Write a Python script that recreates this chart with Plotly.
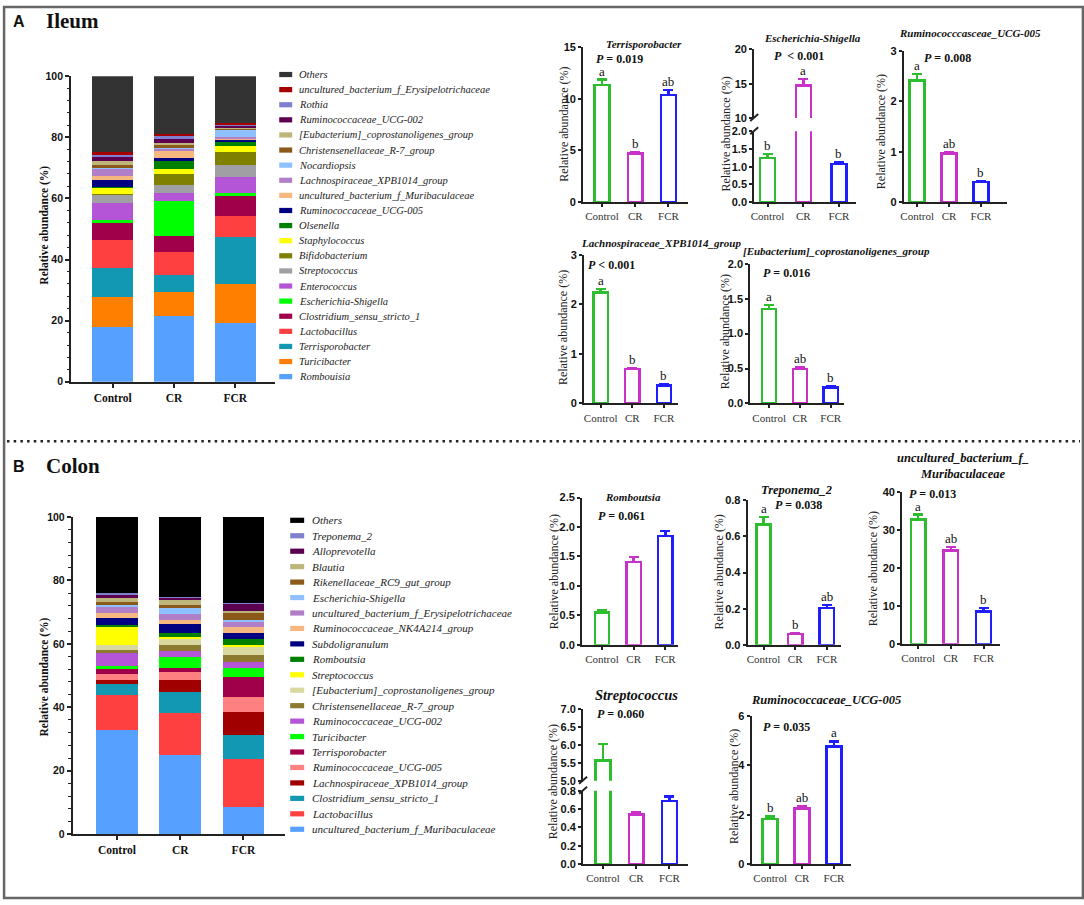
import plotly.graph_objects as go

W, H = 1084, 905
GROUPS = ["Control", "CR", "FCR"]
GROUP_COLORS = ["#2EBD2E", "#C832C8", "#1E1EFF"]

# ---------------- Ileum composition (%), bottom -> top ----------------
ileum_taxa = ["Rombouisia", "Turicibacter", "Terrisporobacter", "Lactobacillus",
              "Clostridium_sensu_stricto_1", "Escherichia-Shigella", "Enterococcus",
              "Streptococcus", "Bifidobacterium", "Staphylococcus", "Olsenella",
              "Ruminococcaceae_UCG-005", "uncultured_bacterium_f_Muribaculaceae",
              "Lachnospiraceae_XPB1014_group", "Nocardiopsis", "Christensenellaceae_R-7_group",
              "[Eubacterium]_coprostanoligenes_group", "Ruminococcaceae_UCG-002", "Rothia",
              "uncultured_bacterium_f_Erysipelotrichaceae", "Others"]
ileum_control = [17.8, 9.9, 9.4, 9.2, 5.8, 1.0, 5.4, 2.6, 0.4, 1.9, 0.3, 2.2, 1.5, 2.2, 0.2, 1.0, 1.3, 1.5, 0.6, 0.9, 24.9]
ileum_cr = [21.4, 8.0, 5.7, 7.4, 5.2, 11.5, 2.5, 2.8, 3.5, 1.6, 2.5, 1.0, 2.3, 0.8, 0.4, 0.9, 0.6, 1.4, 0.8, 0.8, 18.9]
ileum_fcr = [19.1, 12.9, 15.3, 6.8, 6.8, 0.8, 5.2, 3.9, 4.3, 1.9, 1.6, 0.7, 0.3, 0.4, 2.4, 0.4, 0.4, 0.5, 0.4, 0.6, 15.3]
ileum_colors = ["#56A0FF", "#FF8000", "#1298B2", "#FF4040", "#A0004A", "#00FF00", "#B455D8",
                "#A0A0A4", "#808000", "#FFFF00", "#008000", "#000080", "#F5B880", "#B07FC8",
                "#8FC0FF", "#8B5A1A", "#BDB57A", "#5C0050", "#8080D0", "#A50000", "#333333"]

# ---------------- Colon composition (%), bottom -> top ----------------
colon_taxa = ["uncultured_bacterium_f_Muribaculaceae", "Lactobacillus", "Clostridium_sensu_stricto_1",
              "Lachnospiraceae_XPB1014_group", "Ruminococcaceae_UCG-005", "Terrisporobacter",
              "Turicibacter", "Ruminococcaceae_UCG-002", "Christensenellaceae_R-7_group",
              "[Eubacterium]_coprostanoligenes_group", "Streptococcus", "Romboutsia",
              "Subdoligranulum", "Ruminococcaceae_NK4A214_group",
              "uncultured_bacterium_f_Erysipelotrichaceae", "Escherichia-Shigella",
              "Rikenellaceae_RC9_gut_group", "Blautia", "Alloprevotella", "Treponema_2", "Others"]
colon_control = [33.0, 11.0, 3.3, 1.4, 1.7, 1.7, 1.0, 3.9, 1.0, 1.8, 5.8, 0.5, 2.0, 1.7, 1.9, 0.4, 1.0, 1.4, 0.8, 0.8, 23.9]
colon_cr = [24.9, 13.4, 6.5, 3.9, 2.3, 1.5, 3.5, 1.8, 1.7, 2.2, 0.6, 1.2, 2.7, 1.3, 1.8, 1.9, 1.0, 1.6, 0.9, 0.2, 25.1]
colon_fcr = [8.7, 14.9, 7.8, 7.1, 4.7, 6.5, 2.8, 1.9, 2.2, 2.5, 0.5, 1.9, 1.8, 1.9, 1.9, 0.5, 2.0, 0.7, 2.3, 0.2, 27.2]
colon_colors = ["#56A0FF", "#FF4040", "#1298B2", "#A00000", "#FF8080", "#A0004A", "#00FF00",
                "#B455D8", "#8B7A30", "#D8D8A0", "#FFFF00", "#008000", "#000080", "#F5B880",
                "#B07FC8", "#8FC0FF", "#8B5A1A", "#BDB57A", "#5C0050", "#8080D0", "#000000"]

# ---------------- Differential taxa: mean, SEM, letters ----------------
terris_mean = [11.35, 4.7, 10.35]
terris_sem = [0.5, 0.1, 0.5]
terris_letters = ["a", "b", "ab"]
esch_mean = [1.25, 14.7, 1.08]
esch_sem = [0.11, 1.0, 0.05]
esch_letters = ["b", "a", "b"]
il_ucg005_mean = [2.42, 0.97, 0.40]
il_ucg005_sem = [0.13, 0.03, 0.02]
il_ucg005_letters = ["a", "ab", "b"]
lachno_mean = [2.24, 0.69, 0.36]
lachno_sem = [0.07, 0.02, 0.03]
lachno_letters = ["a", "b", "b"]
eubac_mean = [1.35, 0.49, 0.23]
eubac_sem = [0.06, 0.03, 0.02]
eubac_letters = ["a", "ab", "b"]
rombou_mean = [0.55, 1.41, 1.85]
rombou_sem = [0.03, 0.08, 0.08]
rombou_letters = ["", "", ""]
trepo_mean = [0.665, 0.061, 0.205]
trepo_sem = [0.042, 0.003, 0.015]
trepo_letters = ["a", "b", "ab"]
muri_mean = [32.7, 24.6, 8.5]
muri_sem = [1.3, 0.9, 0.9]
muri_letters = ["a", "ab", "b"]
strep_mean = [5.56, 0.54, 0.69]
strep_sem = [0.47, 0.03, 0.05]
strep_letters = ["", "", ""]
co_ucg005_mean = [1.82, 2.25, 4.76]
co_ucg005_sem = [0.11, 0.10, 0.20]
co_ucg005_letters = ["b", "ab", "a"]

SERIF = "Liberation Serif"
SANS = "Liberation Sans"

# screen-to-figure vertical calibration (observed slight vertical squeeze of the page capture)
Y_SCALE, Y_OFF = 0.985, 6.6


def px_x(p):
    return p / W


def px_y(p):
    return 1 - ((p - Y_OFF) / Y_SCALE) / H


fig = go.Figure()
layout = dict(width=W, height=H, margin=dict(l=0, r=0, t=0, b=0),
              paper_bgcolor="white", plot_bgcolor="white", barmode="stack",
              showlegend=False)
annotations = []
shapes = []
ax_count = {"x": 0, "y": 0}


def note(xp, yp, text, font, xanchor="center", yanchor="middle", **kw):
    d = dict(x=px_x(xp), y=px_y(yp), xref="paper", yref="paper", text=text, showarrow=False,
             xanchor=xanchor, yanchor=yanchor, font=font)
    d.update(kw)
    annotations.append(d)


def new_axis(kind):
    ax_count[kind] += 1
    n = ax_count[kind]
    return (kind if n == 1 else f"{kind}{n}"), (f"{kind}axis" if n == 1 else f"{kind}axis{n}")


def stacked_chart(taxa, vals, colors, ax):
    xref, xkey = new_axis("x")
    yref, ykey = new_axis("y")
    for k, name in enumerate(taxa):
        fig.add_trace(go.Bar(x=[0, 1, 2], y=[vals[0][k], vals[1][k], vals[2][k]], name=name,
                             marker=dict(color=colors[k], line=dict(width=0)),
                             width=ax["bw"], xaxis=xref, yaxis=yref, showlegend=False))
    layout[xkey] = dict(domain=[px_x(ax["x0"]), px_x(ax["x1"])],
                        range=[(ax["x0"] - ax["xc"]) / ax["dx"], (ax["x1"] - ax["xc"]) / ax["dx"]],
                        anchor=yref, showline=True, linecolor="#222", linewidth=2,
                        ticks="outside", ticklen=4, tickwidth=1.5, tickcolor="#222",
                        tickvals=[0, 1, 2], ticktext=GROUPS, showgrid=False, zeroline=False,
                        tickfont=dict(family=SERIF, size=11.5, weight="bold", color="#111"))
    layout[ykey] = dict(domain=[px_y(ax["ybot"]), px_y(ax["ytop"])], range=[0, 100],
                        anchor=xref, showline=True, linecolor="#222", linewidth=2,
                        ticks="outside", ticklen=4, tickwidth=1.5, tickcolor="#222",
                        dtick=20, showgrid=False, zeroline=False,
                        minor=dict(dtick=4, ticks="outside", ticklen=2.5, tickwidth=1, tickcolor="#222"),
                        tickfont=dict(family=SANS, size=10.5, weight="bold", color="#111"))
    note(ax["tx"], ax["ty"], "<b>Relative abundance (%)</b>",
         dict(family=SERIF, size=11.5, color="#111"), textangle=-90)


def legend(taxa, colors, lg):
    for k, name in enumerate(taxa):
        row = len(taxa) - 1 - k
        yc = lg["y0"] + row * lg["dy"]
        shapes.append(dict(type="rect", xref="paper", yref="paper",
                           x0=px_x(lg["sx0"]), x1=px_x(lg["sx1"]),
                           y0=px_y(yc + 2.6), y1=px_y(yc - 2.6),
                           fillcolor=colors[k], line=dict(width=0)))
        note(lg["tx"], yc, f"<i>{name}</i>", dict(family=SERIF, size=lg["fs"], color="#222"),
             xanchor="left")


def small_chart(mean, sem, letters, ax):
    xref, xkey = new_axis("x")
    segs = ax["segs"]
    yrefs = []
    for si, seg in enumerate(segs):
        yref, ykey = new_axis("y")
        yrefs.append(yref)
        for i in range(3):
            fig.add_trace(go.Bar(x=[i], y=[mean[i]], width=ax["bw"],
                                 marker=dict(color="white", line=dict(color=GROUP_COLORS[i], width=2.5)),
                                 error_y=dict(type="data", array=[sem[i]], arrayminus=[0],
                                              symmetric=False, color=GROUP_COLORS[i],
                                              thickness=2.5, width=5),
                                 xaxis=xref, yaxis=yref, showlegend=False, name=GROUPS[i]))
        layout[ykey] = dict(domain=[px_y(seg["bot"]), px_y(seg["top"])], range=seg["rng"],
                            anchor=xref, showline=True, linecolor="#222", linewidth=2,
                            ticks="outside", ticklen=3, tickwidth=2, tickcolor="#222",
                            dtick=seg["dtick"], tick0=seg["rng"][0], tickformat=seg["fmt"],
                            showgrid=False, zeroline=False,
                            tickfont=dict(family=SANS, size=11, weight="bold", color="#111"))
    layout[xkey] = dict(domain=[px_x(ax["x0"]), px_x(ax["x1"])],
                        range=[(ax["x0"] - ax["xc"]) / ax["dx"], (ax["x1"] - ax["xc"]) / ax["dx"]],
                        anchor=yrefs[-1], showline=True, linecolor="#222", linewidth=2,
                        ticks="outside", ticklen=3, tickwidth=1.5, tickcolor="#222",
                        tickvals=[0, 1, 2], ticktext=GROUPS, showgrid=False, zeroline=False,
                        tickfont=dict(family=SERIF, size=11, color="#333"))
    # significance letters
    for i in range(3):
        if not letters[i]:
            continue
        top = mean[i] + sem[i]
        yref = yrefs[-1]
        for si, seg in enumerate(segs):
            if seg["rng"][0] <= top <= seg["rng"][1]:
                yref = yrefs[si]
        annotations.append(dict(x=i, y=top, xref=xref, yref=yref, text=letters[i],
                                showarrow=False, xanchor="center", yanchor="bottom", yshift=-1,
                                font=dict(family=SERIF, size=13, color="#111")))
    # break marks
    if len(segs) == 2:
        xa = ax["x0"]
        for yb in (segs[0]["bot"], segs[1]["top"]):
            shapes.append(dict(type="line", xref="paper", yref="paper",
                               x0=px_x(xa - 4), y0=px_y(yb + 3), x1=px_x(xa + 4), y1=px_y(yb - 4),
                               line=dict(color="#222", width=2)))
    # texts
    note(ax["ytx"], ax["yty"], "Relative abundance (%)", dict(family=SERIF, size=12, color="#222"),
         textangle=-90)
    note(ax["tix"], ax["tiy"], ax["title"], dict(family=SERIF, size=ax.get("tsize", 11), color="#111"))
    note(ax["px"], ax["py"], ax["ptext"], dict(family=SERIF, size=12, color="#111"), xanchor="left")


# ---------------- Panel A ----------------
stacked_chart(ileum_taxa, [ileum_control, ileum_cr, ileum_fcr], ileum_colors,
              dict(x0=68.3, x1=273, xc=110, dx=61.5, bw=0.667, ytop=76.7, ybot=381.7, tx=42, ty=225))
legend(ileum_taxa, ileum_colors, dict(sx0=277, sx1=290, tx=295, y0=75, dy=15.08, fs=10.5))

small_chart(terris_mean, terris_sem, terris_letters,
            dict(x0=581.7, xc=600.7, dx=33.3, x1=686.7, bw=0.45,
                 segs=[dict(top=47.7, bot=202.3, rng=[0, 15], dtick=5, fmt="")],
                 ytx=561.7, yty=125, title="<b><i>Terrisporobacter</i></b>", tix=643, tiy=44.5,
                 ptext="<b><i>P</i> = 0.019</b>", px=593, py=60))
small_chart(esch_mean, esch_sem, esch_letters,
            dict(x0=753.3, xc=766.7, dx=35.8, x1=855, bw=0.42,
                 segs=[dict(top=50, bot=118.3, rng=[10, 20], dtick=5, fmt=""),
                       dict(top=131.7, bot=202.3, rng=[0, 2], dtick=0.5, fmt=".1f")],
                 ytx=725, yty=134, title="<b><i>Escherichia-Shigella</i></b>", tix=811.7, tiy=39,
                 ptext="<b><i>P</i>  &lt; 0.001</b>", px=771, py=57))
small_chart(il_ucg005_mean, il_ucg005_sem, il_ucg005_letters,
            dict(x0=903.3, xc=916.7, dx=32, x1=1006.7, bw=0.47,
                 segs=[dict(top=51.7, bot=202.3, rng=[0, 3], dtick=1, fmt="")],
                 ytx=880, yty=132, title="<b><i>Ruminococccasceae_UCG-005</i></b>", tix=970, tiy=33.3,
                 ptext="<b><i>P</i> = 0.008</b>", px=921.7, py=58.3))
small_chart(lachno_mean, lachno_sem, lachno_letters,
            dict(x0=582.7, xc=599.3, dx=31.7, x1=676.7, bw=0.45,
                 segs=[dict(top=255, bot=403.3, rng=[0, 3], dtick=1, fmt="")],
                 ytx=561.7, yty=328, title="<b><i>Lachnospiraceae_XPB1014_group</i></b>", tix=660, tiy=243,
                 ptext="<b><i>P</i> &lt; 0.001</b>", px=585, py=265))
small_chart(eubac_mean, eubac_sem, eubac_letters,
            dict(x0=749.3, xc=768.3, dx=30.85, x1=843, bw=0.46,
                 segs=[dict(top=264, bot=403.3, rng=[0, 2], dtick=0.5, fmt=".1f")],
                 ytx=724.3, yty=332, title="<b><i>[Eubacterium]_coprostanoligenes_group</i></b>", tix=836, tiy=251,
                 ptext="<b><i>P</i> = 0.016</b>", px=760, py=273.3))

# ---------------- Panel B ----------------
stacked_chart(colon_taxa, [colon_control, colon_cr, colon_fcr], colon_colors,
              dict(x0=70, x1=283, xc=114.3, dx=63.4, bw=0.662, ytop=516.7, ybot=833.3, tx=42, ty=676))
legend(colon_taxa, colon_colors, dict(sx0=288, sx1=302, tx=308, y0=520, dy=15.42, fs=11))

small_chart(rombou_mean, rombou_sem, rombou_letters,
            dict(x0=580.7, xc=600.7, dx=31.7, x1=676.7, bw=0.45,
                 segs=[dict(top=497.3, bot=644.3, rng=[0, 2.5], dtick=0.5, fmt=".1f")],
                 ytx=553.3, yty=571, title="<b><i>Romboutsia</i></b>", tix=631.7, tiy=496.7,
                 ptext="<b><i>P</i> = 0.061</b>", px=595, py=516))
small_chart(trepo_mean, trepo_sem, trepo_letters,
            dict(x0=746.7, xc=762.7, dx=31.7, x1=840, bw=0.45,
                 segs=[dict(top=500, bot=644.3, rng=[0, 0.8], dtick=0.2, fmt=".1f")],
                 ytx=718.3, yty=571.7, title="<b><i>Treponema_2</i></b>", tix=795.7, tiy=490, tsize=12.5,
                 ptext="<b><i>P</i> = 0.038</b>", px=771.7, py=505))
small_chart(muri_mean, muri_sem, muri_letters,
            dict(x0=901.7, xc=917.7, dx=32.8, x1=1000, bw=0.45,
                 segs=[dict(top=491.7, bot=643.3, rng=[0, 40], dtick=10, fmt="")],
                 ytx=873.3, yty=568, title="<b><i>uncultured_bacterium_f_<br>Muribaculaceae</i></b>",
                 tix=962.5, tiy=466, tsize=12.5,
                 ptext="<b><i>P</i> = 0.013</b>", px=906.7, py=493.3))
small_chart(strep_mean, strep_sem, strep_letters,
            dict(x0=581.7, xc=601.7, dx=33.3, x1=686.7, bw=0.45,
                 segs=[dict(top=708.3, bot=780, rng=[5, 7], dtick=0.5, fmt=".1f"),
                       dict(top=790, bot=863.3, rng=[0, 0.8], dtick=0.2, fmt=".1f")],
                 ytx=551, yty=781, title="<b><i>Streptococcus</i></b>", tix=635, tiy=694, tsize=14.5,
                 ptext="<b><i>P</i> = 0.060</b>", px=593.3, py=713.3))
small_chart(co_ucg005_mean, co_ucg005_sem, co_ucg005_letters,
            dict(x0=750.7, xc=769.3, dx=32, x1=850, bw=0.47,
                 segs=[dict(top=715, bot=863.3, rng=[0, 6], dtick=2, fmt="")],
                 ytx=733.3, yty=786, title="<b><i>Ruminococcaceae_UCG-005</i></b>", tix=825, tiy=699, tsize=12.5,
                 ptext="<b><i>P</i> = 0.035</b>", px=760, py=726.7))

# ---------------- Panel labels, separator, frame ----------------
note(16, 22, "<b>A</b>", dict(family=SANS, size=16, color="#111"))
note(41, 22, "<b>Ileum</b>", dict(family=SERIF, size=21, color="#111"), xanchor="left")
note(16, 466, "<b>B</b>", dict(family=SANS, size=16, color="#111"))
note(41, 466, "<b>Colon</b>", dict(family=SERIF, size=21, color="#111"), xanchor="left")

shapes.append(dict(type="line", xref="paper", yref="paper", x0=px_x(4), x1=px_x(1080),
                   y0=px_y(441), y1=px_y(441), line=dict(color="#222", width=2.5, dash="2.5px,4.2px")))
shapes.append(dict(type="rect", xref="paper", yref="paper", x0=0.001, x1=0.999, y0=0.001, y1=0.999,
                   line=dict(color="#666", width=2.5), fillcolor="rgba(0,0,0,0)"))

layout["annotations"] = annotations
layout["shapes"] = shapes
fig.update_layout(**layout)
fig.write_html("out.html", config={"displayModeBar": False},
               post_script="document.body.style.margin='0';document.body.style.overflow='hidden';")
